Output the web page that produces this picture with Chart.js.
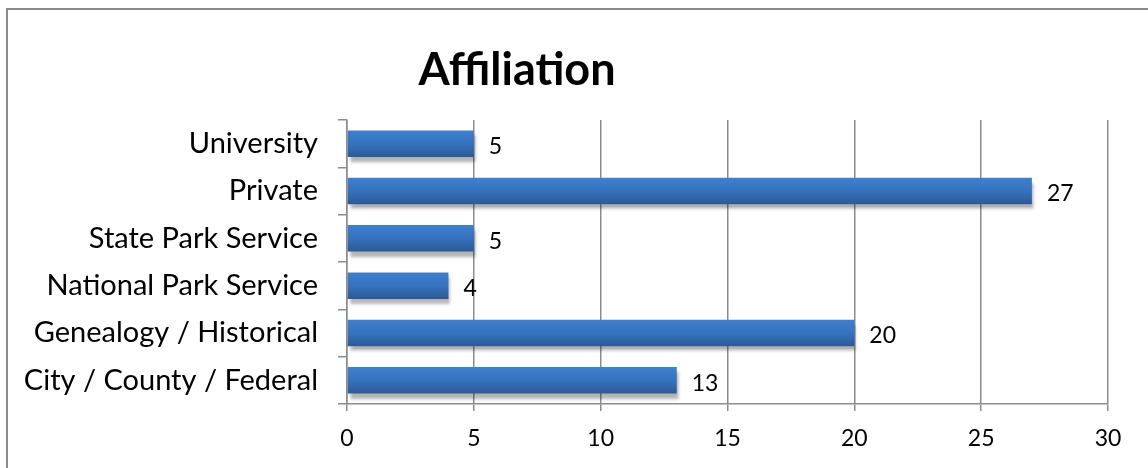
<!DOCTYPE html>
<html>
<head>
<meta charset="utf-8">
<script src="https://cdn.jsdelivr.net/npm/chart.js@4.4.1/dist/chart.umd.min.js"></script>
<style>
  html, body { margin: 0; padding: 0; background: #fff; }
  #wrap { width: 1148px; height: 468px; }
</style>
</head>
<body>
<div id="wrap"><canvas id="grafico" width="1148" height="468"></canvas></div>
<script>
// Datos del grafico
const categorias = ['University', 'Private', 'State Park Service', 'National Park Service', 'Genealogy / Historical', 'City / County / Federal'];
const valores = [5, 27, 5, 4, 20, 13];
const titulo = 'Affiliation';
const ejeMin = 0;
const ejeMax = 30;
const ejePaso = 5;

const fuente = 'Lato, "Open Sans", sans-serif';

// Marco gris alrededor del grafico
const marco = {
    id: 'marco',
    beforeDraw(chart) {
        const ctx = chart.ctx;
        ctx.save();
        ctx.strokeStyle = '#8a8a8a';
        ctx.lineWidth = 2;
        ctx.strokeRect(7, 9, 1400, 800);
        ctx.restore();
    }
};

// Titulo
const tituloPlugin = {
    id: 'tituloPlugin',
    afterDraw(chart) {
        const ctx = chart.ctx;
        ctx.save();
        ctx.font = 'bold 45px ' + fuente;
        ctx.fillStyle = '#000';
        ctx.textAlign = 'center';
        ctx.textBaseline = 'middle';
        ctx.fillText(titulo, 517, 70);
        ctx.restore();
    }
};

// Sombra de las barras
const sombra = {
    id: 'sombra',
    beforeDatasetDraw(chart) {
        const ctx = chart.ctx;
        ctx.save();
        ctx.shadowColor = 'rgba(0,0,0,0.3)';
        ctx.shadowBlur = 3;
        ctx.shadowOffsetX = 2;
        ctx.shadowOffsetY = 5;
    },
    afterDatasetDraw(chart) {
        chart.ctx.restore();
    }
};

// Etiquetas con el valor al final de cada barra
const etiquetas = {
    id: 'etiquetas',
    afterDatasetsDraw(chart) {
        const ctx = chart.ctx;
        const meta = chart.getDatasetMeta(0);
        ctx.save();
        ctx.font = '23px ' + fuente;
        ctx.fillStyle = '#000';
        ctx.textAlign = 'left';
        ctx.textBaseline = 'middle';
        meta.data.forEach((barra, i) => {
            ctx.fillText(String(valores[i]), barra.x + 15, barra.y + 3);
        });
        ctx.restore();
    }
};

function degradado(c) {
    const chart = c.chart;
    if (!chart.chartArea || c.dataIndex === undefined) return '#3a78c4';
    const centro = chart.scales.y.getPixelForValue(c.dataIndex);
    const g = chart.ctx.createLinearGradient(0, centro - 13, 0, centro + 13);
    g.addColorStop(0, '#3d80d0');
    g.addColorStop(0.5, '#3672bd');
    g.addColorStop(1, '#2c5a98');
    return g;
}

new Chart(document.getElementById('grafico'), {
    type: 'bar',
    data: {
        labels: categorias,
        datasets: [{
            data: valores,
            backgroundColor: degradado,
            borderWidth: 0,
            categoryPercentage: 1,
            barPercentage: 0.56
        }]
    },
    plugins: [marco, sombra, etiquetas, tituloPlugin],
    options: {
        indexAxis: 'y',
        responsive: false,
        animation: false,
        layout: { padding: { left: 0, right: 40, top: 120, bottom: 0 } },
        plugins: {
            legend: { display: false },
            title: { display: false },
            tooltip: { enabled: false }
        },
        scales: {
            x: {
                min: ejeMin,
                max: ejeMax,
                ticks: {
                    stepSize: ejePaso,
                    color: '#000',
                    font: { family: fuente, size: 23 },
                    padding: 14
                },
                grid: {
                    color: '#8c8c8c',
                    lineWidth: 1.5,
                    drawTicks: true,
                    tickLength: 7
                },
                border: { color: '#8c8c8c', width: 1.5 },
                afterFit(scale) { scale.height = 64; }
            },
            y: {
                ticks: {
                    color: '#000',
                    font: { family: fuente, size: 29 },
                    padding: 20
                },
                grid: {
                    drawOnChartArea: false,
                    drawTicks: true,
                    tickLength: 9,
                    color: '#8c8c8c',
                    lineWidth: 1.5
                },
                border: { color: '#8c8c8c', width: 1.5 },
                afterFit(scale) { scale.width = 347; }
            }
        }
    }
});
</script>
</body>
</html>
